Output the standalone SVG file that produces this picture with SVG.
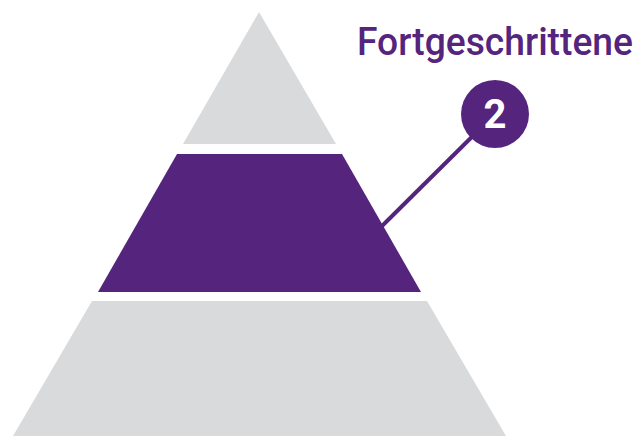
<svg xmlns="http://www.w3.org/2000/svg" width="644" height="436" viewBox="0 0 644 436">
<style>
.g{fill:#d9dadc}
.p{fill:#55247d}
.lbl{font-family:Roboto,"Liberation Sans",sans-serif;fill:#55247d;font-size:39px;font-weight:500}
.num{font-family:Roboto,"Liberation Sans",sans-serif;fill:#fff;font-size:40px;font-weight:bold}
</style>
<rect width="644" height="436" fill="#fff"/>
<g id="connectors">
<line x1="382" y1="226" x2="495" y2="114" stroke="#55247d" stroke-width="4"/>
</g>
<g id="top"><polygon class="g" points="259,12 336,144 183,144"/></g>
<g id="middle"><polygon class="p" points="177,154 342,154 421,292 98,292"/></g>
<g id="bottom"><polygon class="g" points="92,301 427,301 506,436 13,436"/></g>
<g id="badge">
<circle class="p" cx="495" cy="114" r="34"/>
<text class="num" x="495" y="128" text-anchor="middle">2</text>
</g>
<g id="label">
<text class="lbl" x="357" y="55" textLength="276" lengthAdjust="spacingAndGlyphs">Fortgeschrittene</text>
</g>
</svg>
